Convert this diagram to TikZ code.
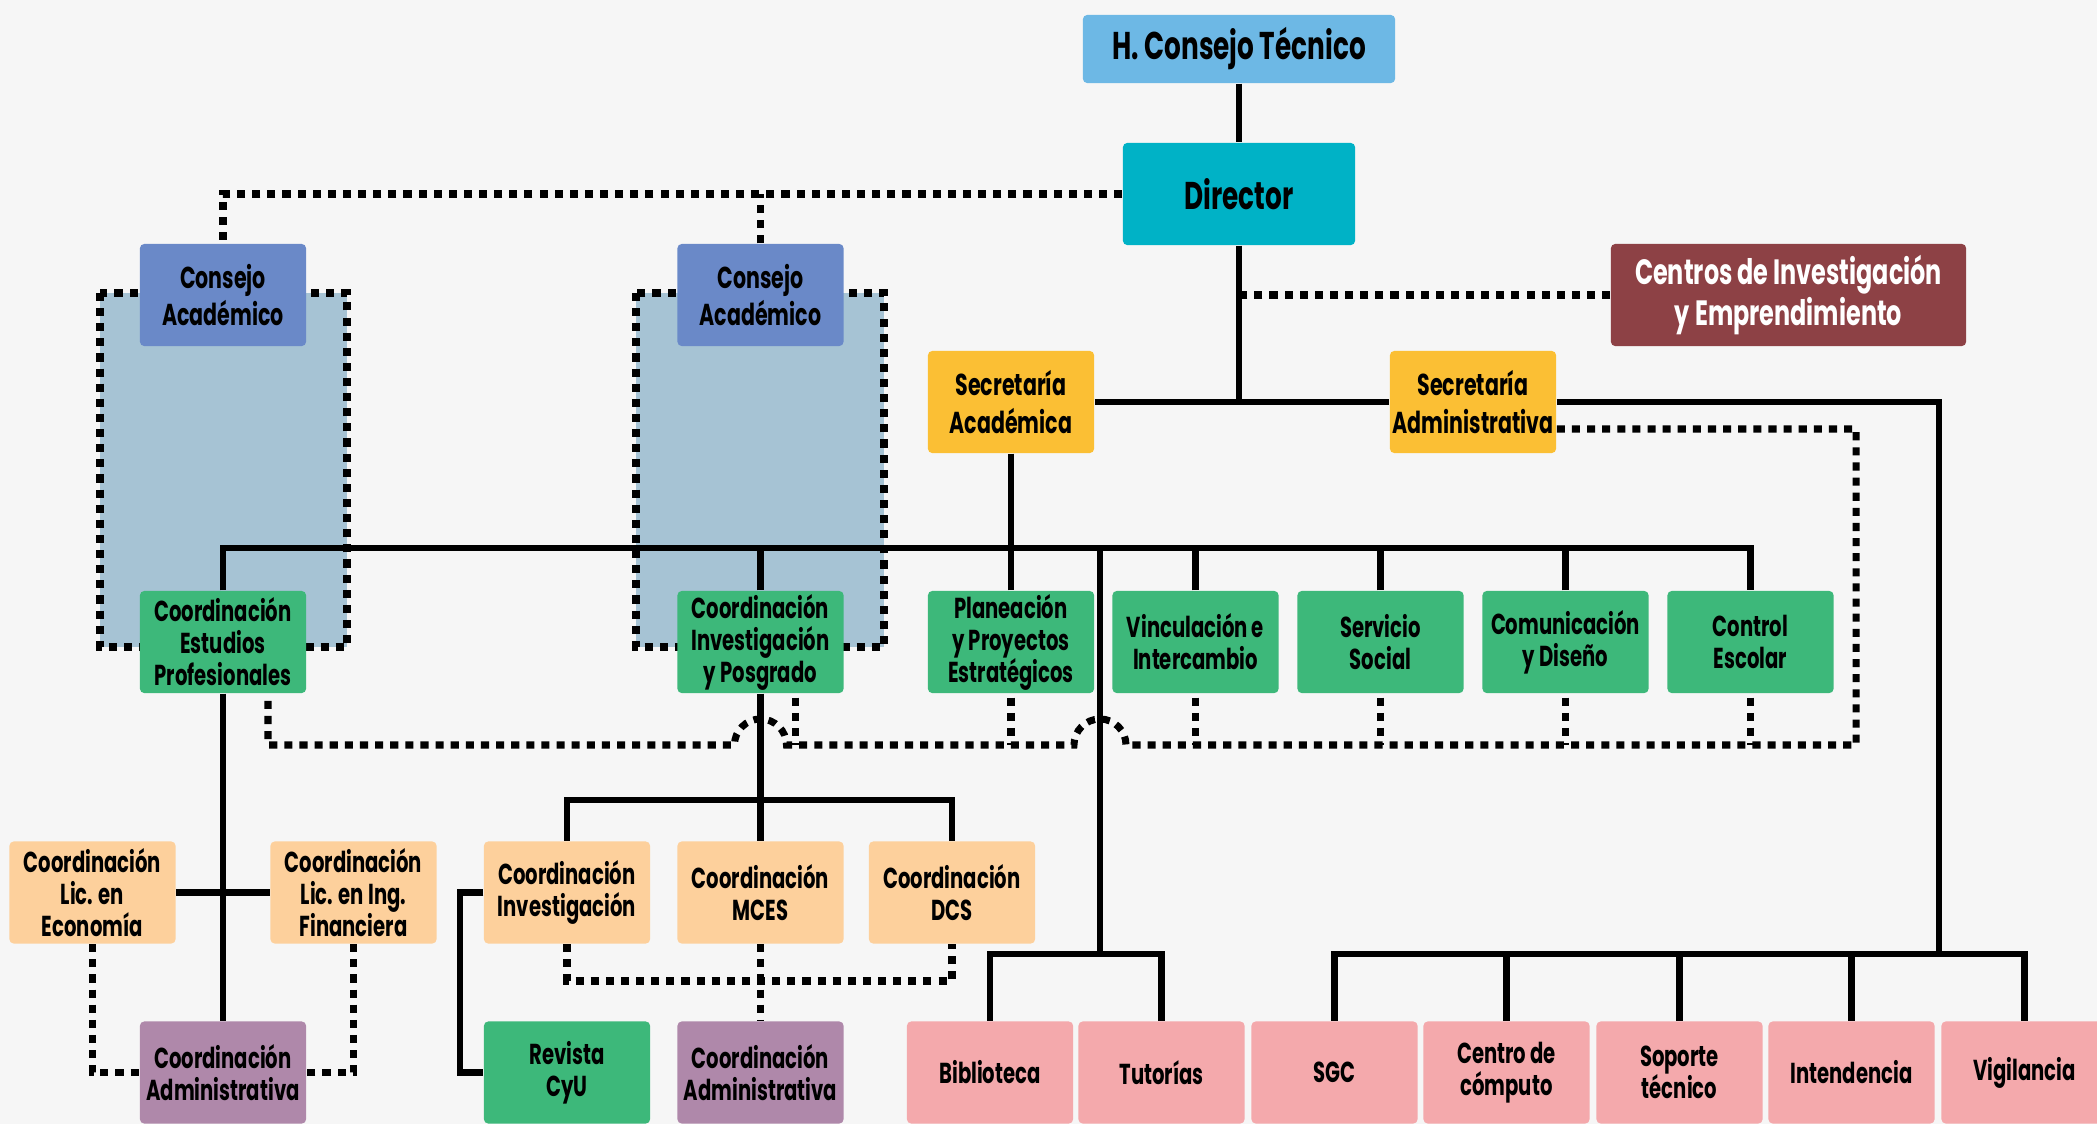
\documentclass[tikz,border=0pt]{standalone}
\usepackage{fontspec}
\setmainfont{Poppins}[FakeStretch=0.68]
\usetikzlibrary{calc}
\definecolor{orgcielo}{HTML}{6DB8E5}
\definecolor{orgteal}{HTML}{00B2C6}
\definecolor{orgazul}{HTML}{6A89C8}
\definecolor{orgfondo}{HTML}{A6C3D4}
\definecolor{orgvino}{HTML}{8D4145}
\definecolor{orgambar}{HTML}{FBBF34}
\definecolor{orgverde}{HTML}{3DB87A}
\definecolor{orgdurazno}{HTML}{FDD09C}
\definecolor{orgmorado}{HTML}{AF88AA}
\definecolor{orgrosa}{HTML}{F4A9AC}
\definecolor{orgpapel}{HTML}{F6F6F6}

\begin{document}
\begin{tikzpicture}[x=0.01cm,y=-0.01cm,
  box/.style={rounded corners=1.2pt,align=center,inner sep=0pt,
    minimum width=1.66cm,minimum height=1.02cm,
    font=\bfseries\fontsize{8.2}{9.1}\selectfont},
  bigbox/.style={box,font=\bfseries\fontsize{8.6}{10.6}\selectfont},
  org/.style={line width=1.8pt},
  rel/.style={line width=2pt,dash pattern=on 2.3pt off 2pt}]
  \fill[orgpapel] (0,0) rectangle (2097,1124);
  \useasboundingbox (0,0) rectangle (2097,1124);

  \filldraw[fill=orgfondo,rel] (100,293) rectangle (347,647);
  \filldraw[fill=orgfondo,rel] (636,293) rectangle (884,647);

  \node[box,fill=orgcielo,minimum width=3.12cm,minimum height=0.68cm,
    font=\bfseries\fontsize{11}{12}\selectfont] (hct) at (1239,49) {H. Consejo Técnico};
  \node[box,fill=orgteal,minimum width=2.32cm,
    font=\bfseries\fontsize{11}{12}\selectfont] (dir) at (1239,194) {Director};
  \node[bigbox,fill=orgazul] (ca1) at (223,295) {Consejo\\Académico};
  \node[bigbox,fill=orgazul] (ca2) at (760.5,295) {Consejo\\Académico};
  \node[box,fill=orgvino,text=white,minimum width=3.55cm,
    font=\bfseries\fontsize{10}{10.6}\selectfont] (cie) at (1788.5,295) {Centros de Investigación\\y Emprendimiento};
  \node[bigbox,fill=orgambar] (sa) at (1011,402) {Secretaría\\Académica};
  \node[bigbox,fill=orgambar] (sadm) at (1473,402) {Secretaría\\Administrativa};

  \node[box,fill=orgverde] (cep) at (223,642) {Coordinación\\Estudios\\Profesionales};
  \node[box,fill=orgverde] (cip) at (760.5,642) {Coordinación\\Investigación\\y Posgrado};
  \node[box,fill=orgverde] (pla) at (1011,642) {Planeación\\y Proyectos\\Estratégicos};
  \node[box,fill=orgverde] (vin) at (1195.5,642) {Vinculación e\\Intercambio};
  \node[box,fill=orgverde] (ser) at (1380.5,642) {Servicio\\Social};
  \node[box,fill=orgverde] (com) at (1565.5,642) {Comunicación\\y Diseño};
  \node[box,fill=orgverde] (ces) at (1750.5,642) {Control\\Escolar};

  \node[box,fill=orgdurazno] (leco) at (92.5,892.5) {Coordinación\\Lic. en\\Economía};
  \node[box,fill=orgdurazno] (lfin) at (353.5,892.5) {Coordinación\\Lic. en Ing.\\Financiera};
  \node[box,fill=orgdurazno] (cinv) at (567,892.5) {Coordinación\\Investigación};
  \node[box,fill=orgdurazno] (cmces) at (760.5,892.5) {Coordinación\\MCES};
  \node[box,fill=orgdurazno] (cdcs) at (952,892.5) {Coordinación\\DCS};

  \node[box,fill=orgmorado] (cadm1) at (223,1072.5) {Coordinación\\Administrativa};
  \node[box,fill=orgverde] (rev) at (567,1072.5) {Revista\\CyU};
  \node[box,fill=orgmorado] (cadm2) at (760.5,1072.5) {Coordinación\\Administrativa};
  \node[box,fill=orgrosa] (bib) at (990,1072.5) {Biblioteca};
  \node[box,fill=orgrosa] (tut) at (1161.5,1072.5) {Tutorías};
  \node[box,fill=orgrosa] (sgc) at (1334.5,1072.5) {SGC};
  \node[box,fill=orgrosa] (cc) at (1506.5,1072.5) {Centro de\\cómputo};
  \node[box,fill=orgrosa] (st) at (1679.5,1072.5) {Soporte\\técnico};
  \node[box,fill=orgrosa] (int) at (1851.5,1072.5) {Intendencia};
  \node[box,fill=orgrosa] (vig) at (2024.5,1072.5) {Vigilancia};

  \coordinate (acbus) at (1011,548);
  \coordinate (bt) at (1100,954);
  \coordinate (admbus) at (1939,954);
  \coordinate (pbus) at (760.5,800);
  \coordinate (rl) at (1856,745);
  \coordinate (pdl) at (760.5,981);

  \draw[org] (hct) -- (dir);
  \draw[org] (dir) -- (dir |- sa.east);
  \draw[org] (sa.east) -- (sadm.west);
  \draw[org] (sadm.east) -| (admbus);
  \draw[org] (sa) -- (acbus);
  \draw[org] (cep.north) -- (cep.north |- acbus) -- (ces.north |- acbus) -- (ces.north);
  \foreach \n in {cip,pla,vin,ser,com}
    \draw[org] (\n.north) -- (\n.north |- acbus);
  \draw[org] (bt |- acbus) -- (bt);
  \draw[org] (bib.north) |- (bt) -| (tut.north);
  \draw[org] (sgc.north) |- (vig.north |- admbus) -- (vig.north);
  \foreach \n in {cc,st,int}
    \draw[org] (\n.north) -- (\n.north |- admbus);
  \draw[org] (cep) -- (cadm1);
  \draw[org] (leco.east) -- (lfin.west);
  \draw[org] (cip) -- (pbus);
  \draw[org] (cinv.north) |- (pbus) -| (cdcs.north);
  \draw[org] (cmces) -- (pbus);
  \draw[org] (cinv.west) -- ++(-23,0) |- (rev.west);

  \draw[rel] (dir.west) -| (ca1.north);
  \draw[rel] (ca2.north) -- (ca2.north |- dir.west);
  \draw[rel] (cie.west) -- (cie.west -| dir);
  \draw[rel] ($(sadm.east)+(0,27)$) -| (rl)
    -- ($(bt |- rl)+(26,0)$) arc[start angle=0,end angle=180,radius=0.26cm]
    -- ($(cip |- rl)+(26,0)$) arc[start angle=0,end angle=180,radius=0.26cm]
    -- ($(cep.south |- rl)+(45,0)$) -- ($(cep.south)+(45,4)$);
  \draw[rel] ($(cip.south)+(35,4)$) -- ($(cip.south |- rl)+(35,0)$);
  \foreach \n in {pla,vin,ser,com,ces}
    \draw[rel] ($(\n.south)+(0,4)$) -- (\n.south |- rl);
  \draw[rel] (leco.south) |- (cadm1.west);
  \draw[rel] (lfin.south) |- (cadm1.east);
  \draw[rel] (cinv.south) |- (pdl) -| (cdcs.south);
  \draw[rel] (cmces) -- (cadm2);
\end{tikzpicture}
\end{document}
